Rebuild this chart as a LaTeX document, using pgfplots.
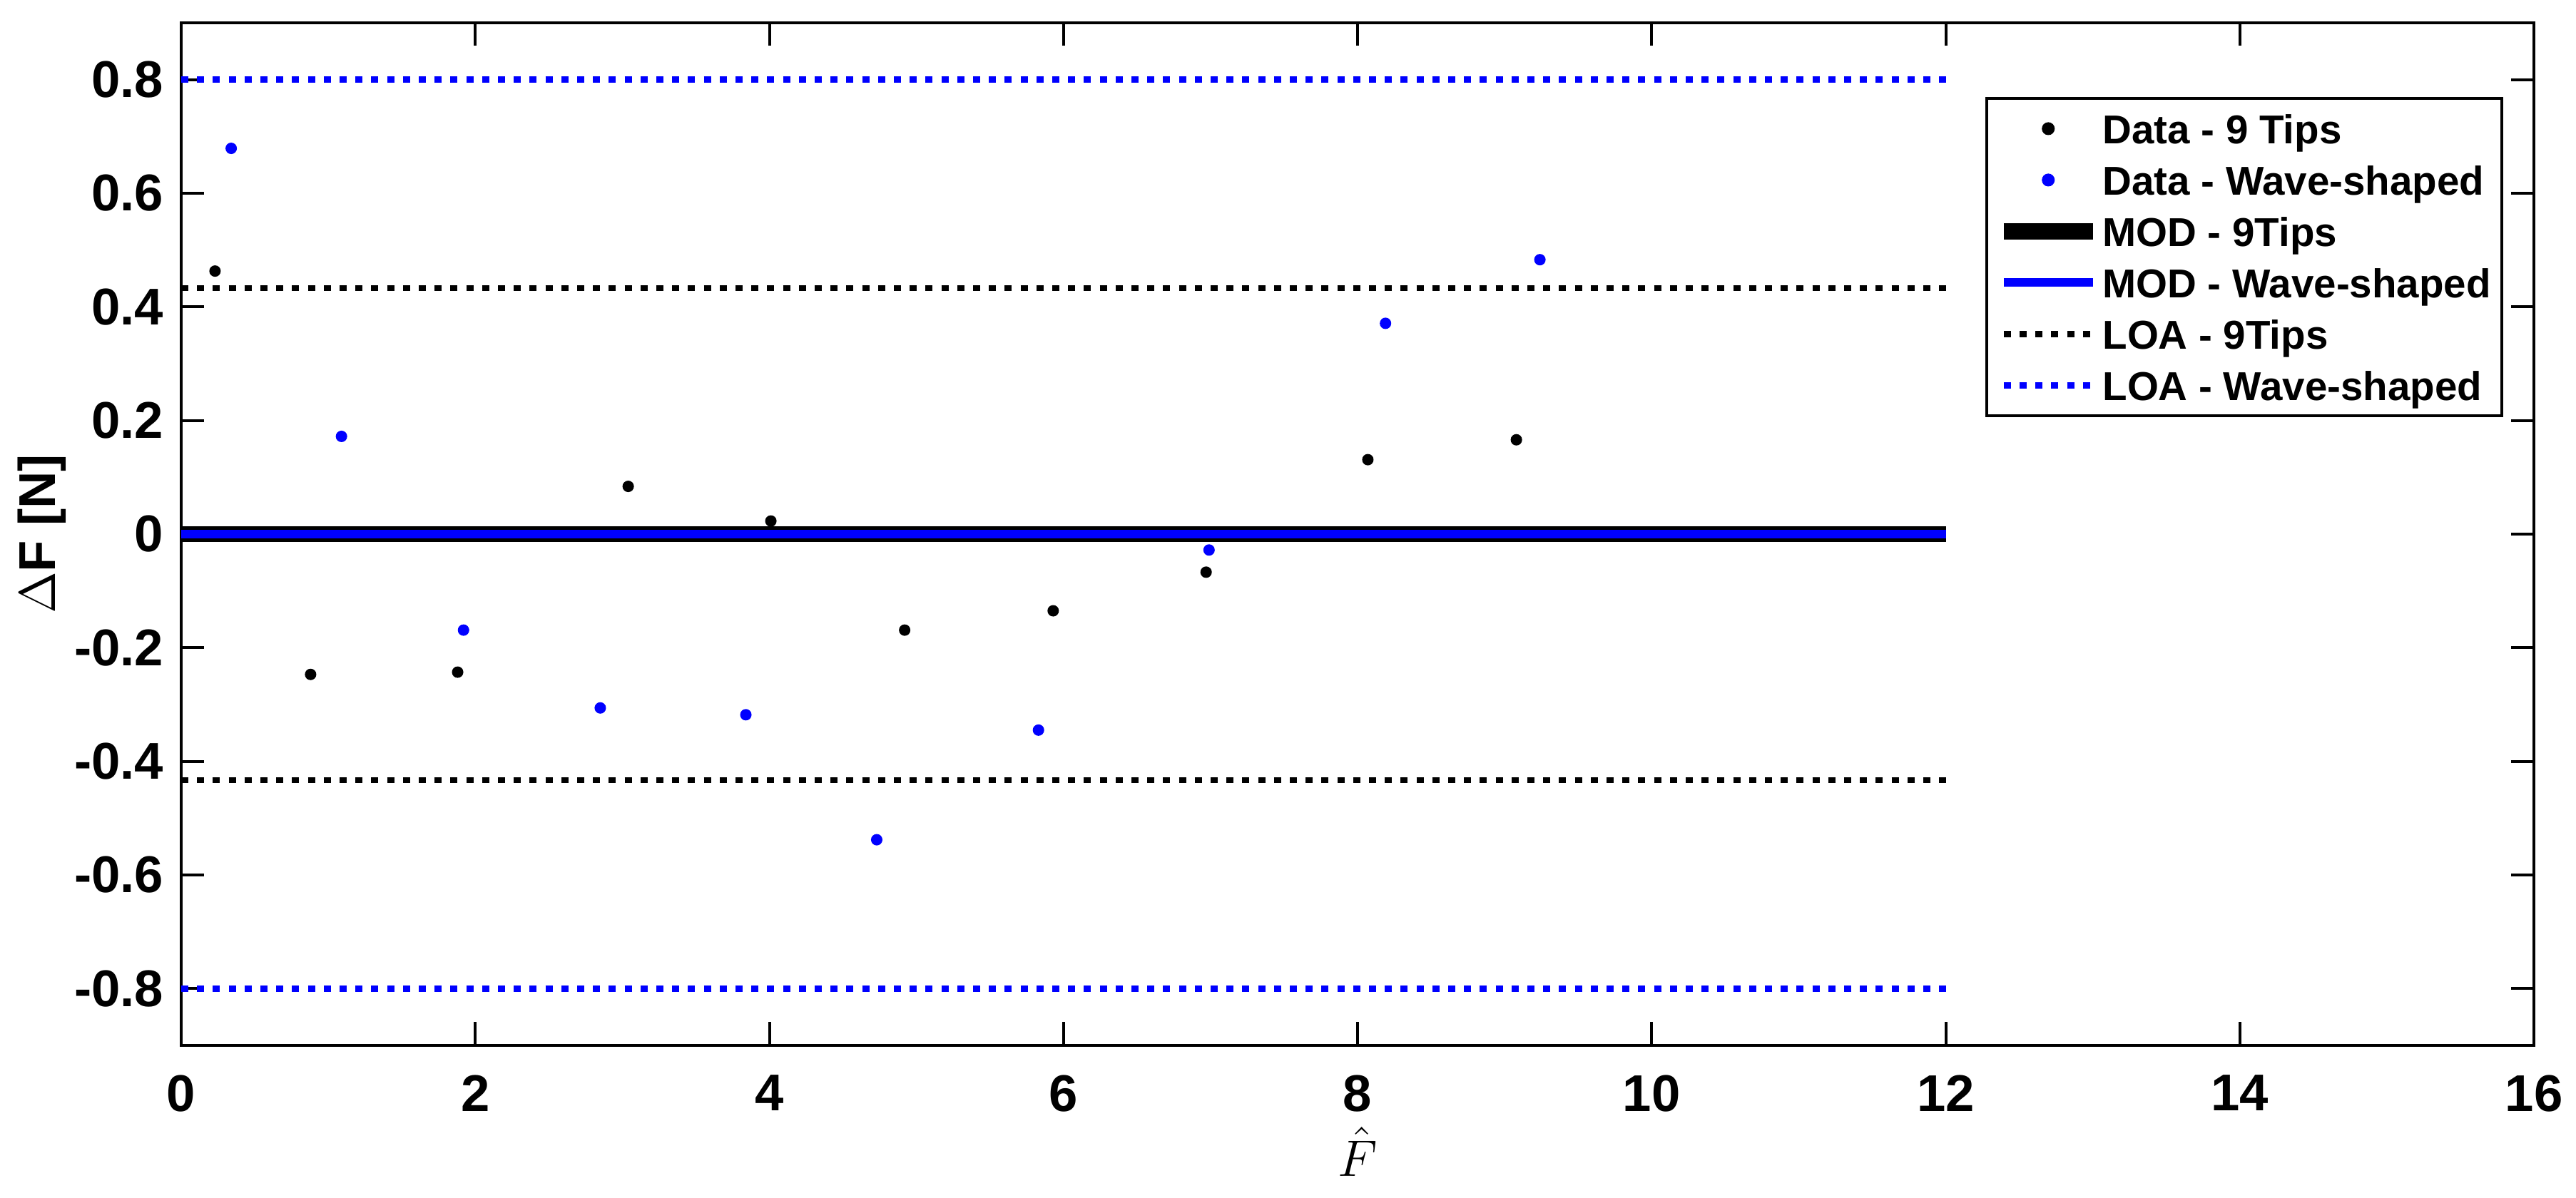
\documentclass[border=0pt]{standalone}
\usepackage{fontspec}
\setmainfont{Liberation Sans}
\usepackage{pgfplots}
\pgfplotsset{compat=1.18}
\begin{document}
\begin{tikzpicture}
\begin{axis}[
  at={(0,0)}, anchor=south west,
  width=659.6pt, height=286.8pt, scale only axis,
  xmin=0, xmax=16, ymin=-0.9, ymax=0.9,
  xtick={0,2,4,6,8,10,12,14,16}, xticklabels={0,2,4,6,8,10,12,14,16},
  ytick={-0.8,-0.6,-0.4,-0.2,0,0.2,0.4,0.6,0.8},
  yticklabels={-0.8,-0.6,-0.4,-0.2,0,0.2,0.4,0.6,0.8},
  tick align=inside, tick pos=both, major tick length=6.5pt,
  every tick/.style={black, line width=0.8pt},
  axis line style={black, line width=0.8pt},
  xticklabel style={font=\fontsize{14.5}{17}\selectfont\bfseries, inner sep=0pt, anchor=north, yshift=-8.2pt},
  yticklabel style={font=\fontsize{14.5}{17}\selectfont\bfseries, inner sep=0pt, anchor=east, xshift=-4.8pt},
  xlabel={$\hat{F}$},
  xlabel style={font=\fontsize{15}{18}\selectfont, at={(axis description cs:0.5,-0.0795)}, anchor=north, inner sep=0pt},
  ylabel={$\Delta$F [N]},
  ylabel style={font=\fontsize{14.5}{17}\selectfont\bfseries, at={(axis description cs:-0.0697,0.5)}, anchor=north, inner sep=0pt},
  legend style={at={(axis description cs:0.987,0.9275)}, anchor=north east, draw=black, line width=0.8pt,
    font=\fontsize{11.3}{13}\selectfont\bfseries, inner xsep=2.6pt, inner ysep=1.3pt, row sep=0pt, column sep=0pt,
    nodes={inner sep=0.5pt, text height=11pt, text depth=2.4pt}},
  legend cell align=left,
  legend image code/.code={\draw[mark repeat=2,mark phase=2,#1] plot coordinates {(0pt,0pt) (12.5pt,0pt) (25pt,0pt)};},
]
\addplot[only marks, mark=*, mark size=1.4pt, black] coordinates {
(0.23,0.463) (0.88,-0.247) (1.88,-0.243) (3.04,0.084) (4.01,0.023)
(4.92,-0.169) (5.93,-0.135) (6.97,-0.067) (8.07,0.131) (9.08,0.166)};
\addlegendentry{Data - 9 Tips}
\addplot[only marks, mark=*, mark size=1.4pt, blue] coordinates {
(0.34,0.679) (1.09,0.172) (1.92,-0.169) (2.85,-0.306) (3.84,-0.318)
(4.73,-0.538) (5.83,-0.345) (6.99,-0.028) (8.19,0.371) (9.24,0.483)};
\addlegendentry{Data - Wave-shaped}
\addplot[black, line width=4.5pt] coordinates {(0,0) (12,0)};
\addlegendentry{MOD - 9Tips}
\addplot[blue, line width=2.4pt] coordinates {(0,0) (12,0)};
\addlegendentry{MOD - Wave-shaped}
\addplot[black, line width=1.7pt, dash pattern=on 2pt off 2.44pt] coordinates {(0,0.433) (12,0.433)};
\addlegendentry{LOA - 9Tips}
\addplot[forget plot, black, line width=1.7pt, dash pattern=on 2pt off 2.44pt] coordinates {(0,-0.433) (12,-0.433)};
\addplot[blue, line width=1.7pt, dash pattern=on 2pt off 2.44pt] coordinates {(0,0.8) (12,0.8)};
\addlegendentry{LOA - Wave-shaped}
\addplot[forget plot, blue, line width=1.7pt, dash pattern=on 2pt off 2.44pt] coordinates {(0,-0.8) (12,-0.8)};
\end{axis}
\pgfresetboundingbox
\path (-50.8pt,-42.8pt) rectangle (671.4pt,293.2pt);
\end{tikzpicture}
\end{document}
